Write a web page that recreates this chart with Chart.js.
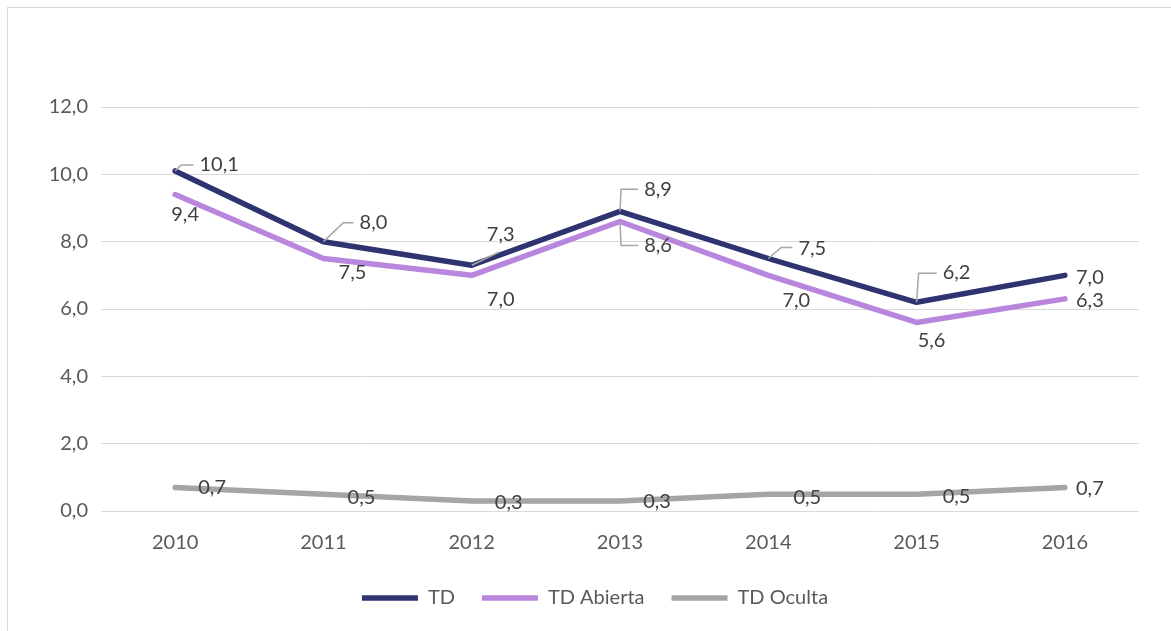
<!DOCTYPE html>
<html>
<head>
<meta charset="utf-8">
<script src="https://cdn.jsdelivr.net/npm/chart.js@4.4.0/dist/chart.umd.min.js"></script>
<style>
  html, body { margin: 0; padding: 0; background: #ffffff; overflow: hidden; }
  #frame {
    position: absolute; left: 7px; top: 7px; width: 1164px; height: 624px;
    border-top: 1px solid #d9d9d9; border-left: 1px solid #d9d9d9;
    overflow: hidden;
  }
  #myChart { display: block; }
</style>
</head>
<body>
<div id="frame"><canvas id="myChart" width="1163" height="610"></canvas></div>
<script>
var years = ['2010', '2011', '2012', '2013', '2014', '2015', '2016'];
var td = [10.1, 8.0, 7.3, 8.9, 7.5, 6.2, 7.0];
var tdAbierta = [9.4, 7.5, 7.0, 8.6, 7.0, 5.6, 6.3];
var tdOculta = [0.7, 0.5, 0.3, 0.3, 0.5, 0.5, 0.7];
var yTicks = [0, 2, 4, 6, 8, 10, 12];

// where each value label sits relative to its point (dx, dy)
var tdLabelPos = [[44, -6], [50, -19], [29, -31], [38, -22], [44, -10], [40, -30], [25, 2]];
var abiertaLabelPos = [[10, 20], [29, 14], [29, 24], [38, 24], [28, 25], [15, 18], [25, 2]];
var ocultaLabelPos = [[37, 0], [38, 3], [37, 2], [37, 1], [39, 3], [40, 2], [25, 1]];
// leader line elbow relative to point (null = no leader)
var tdLeaders = [[6, -6], [20, -19], [27, -13], [1, -22], [13, -11], [2, -29], null];
var abiertaLeaders = [null, null, null, [1, 24], null, null, null];

var fmt = function(v){
    return v.toFixed(1).replace('.', ',');
}

var valueLabels = {
    id: 'valueLabels',
    afterDatasetsDraw: function(chart){
        var ctx = chart.ctx;
        ctx.save();
        ctx.font = '20px Lato';
        ctx.textAlign = 'center';
        ctx.textBaseline = 'middle';
        chart.data.datasets.forEach(function(ds, i){
            var meta = chart.getDatasetMeta(i);
            meta.data.forEach(function(pt, j){
                var off = ds.labelPos[j];
                var text = fmt(ds.data[j]);
                var lx = pt.x + off[0];
                var ly = pt.y + off[1];
                var lead = ds.leaders ? ds.leaders[j] : null;
                if (lead){
                    var w = ctx.measureText(text).width;
                    var bx = pt.x + lead[0], by = pt.y + lead[1];
                    var ex = lx - w / 2 - 6;
                    ctx.strokeStyle = '#a6a6a6';
                    ctx.lineWidth = 1.5;
                    ctx.beginPath();
                    ctx.moveTo(pt.x, pt.y);
                    ctx.lineTo(bx, by);
                    if (ex > bx){
                        ctx.lineTo(ex, by);
                    }
                    ctx.stroke();
                }
                ctx.fillStyle = '#404040';
                ctx.fillText(text, lx, ly);
            })
        })
        ctx.restore();
    }
}

Chart.defaults.font.family = 'Lato';
Chart.defaults.font.size = 20;
Chart.defaults.color = '#595959';

var ctx = document.getElementById('myChart');
var myChart = new Chart(ctx, {
    type: 'line',
    data: {
        labels: years,
        datasets: [{
            label: 'TD',
            data: td,
            borderColor: '#2f3471',
            backgroundColor: '#2f3471',
            borderWidth: 5.5,
            labelPos: tdLabelPos,
            leaders: tdLeaders
        }, {
            label: 'TD Abierta',
            data: tdAbierta,
            borderColor: '#b886dd',
            backgroundColor: '#b886dd',
            borderWidth: 5.5,
            labelPos: abiertaLabelPos,
            leaders: abiertaLeaders
        }, {
            label: 'TD Oculta',
            data: tdOculta,
            borderColor: '#a5a5a5',
            backgroundColor: '#a5a5a5',
            borderWidth: 5.5,
            labelPos: ocultaLabelPos
        }]
    },
    options: {
        responsive: false,
        animation: false,
        layout: { padding: { top: 99, left: 11, right: 0, bottom: 0 } },
        elements: {
            point: { radius: 0, hoverRadius: 0 },
            line: { tension: 0, borderCapStyle: 'round', borderJoinStyle: 'round' }
        },
        plugins: {
            tooltip: { enabled: false },
            legend: {
                position: 'bottom',
                labels: {
                    usePointStyle: true,
                    pointStyle: 'line',
                    pointStyleWidth: 56,
                    boxHeight: 20,
                    padding: 27,
                    color: '#595959',
                    font: { size: 20 }
                }
            }
        },
        scales: {
            x: {
                offset: true,
                grid: { display: false },
                border: { display: false },
                ticks: { padding: 12, color: '#595959' },
                afterFit: function(scale){ scale.height = 50; }
            },
            y: {
                min: 0,
                max: 12,
                afterBuildTicks: function(scale){
                    scale.ticks = yTicks.map(function(v){ return { value: v }; });
                },
                grid: { color: '#d9d9d9', lineWidth: 1, drawTicks: false },
                border: { display: false },
                ticks: {
                    padding: 13,
                    color: '#595959',
                    callback: function(v){ return fmt(v); }
                },
                afterFit: function(scale){ scale.width = 82; }
            },
            yRight: {
                position: 'right',
                display: true,
                grid: { display: false, drawTicks: false },
                border: { display: false },
                ticks: { display: false },
                afterFit: function(scale){ scale.width = 32; }
            }
        }
    },
    plugins: [valueLabels]
})
</script>
</body>
</html>
